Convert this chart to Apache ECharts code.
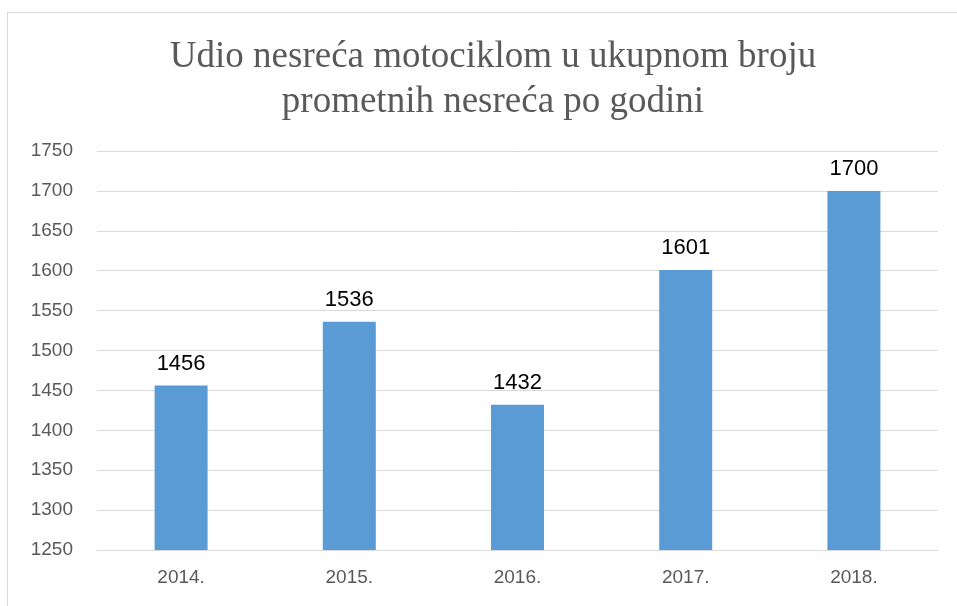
<!DOCTYPE html>
<html>
<head>
<meta charset="utf-8">
<script src="https://cdn.jsdelivr.net/npm/echarts@6/dist/echarts.min.js"></script>
<style>
  html, body { margin: 0; padding: 0; background: #fff; }
  #frame { position: absolute; left: 7px; top: 12px; width: 960px; height: 610px;
    border-left: 1px solid #d9d9d9; border-top: 1px solid #d9d9d9; }
  #chart { position: absolute; left: 0; top: 0; width: 957px; height: 606px; }
</style>
</head>
<body>
<div id="frame"></div>
<div id="chart"></div>
<script>
const years = ['2014.', '2015.', '2016.', '2017.', '2018.']
const accidents = [1456, 1536, 1432, 1601, 1700]
const titleText = 'Udio nesreća motociklom u ukupnom broju\nprometnih nesreća po godini'

const chart = echarts.init(document.getElementById('chart'))
chart.setOption({
  animation: false,
  title: {
    text: titleText,
    left: 488,
    top: 30,
    textAlign: 'center',
    textStyle: {
      fontFamily: 'Liberation Serif',
      fontWeight: 'normal',
      fontSize: 37,
      lineHeight: 45,
      color: '#595959'
    }
  },
  grid: { left: 97, right: 19, top: 151, bottom: 56 },
  xAxis: {
    type: 'category',
    data: years,
    axisLine: { lineStyle: { color: '#d9d9d9', width: 1 } },
    axisTick: { show: false },
    axisLabel: { color: '#595959', fontSize: 19, fontFamily: 'Liberation Sans', margin: 18 }
  },
  yAxis: {
    type: 'value',
    min: 1250,
    max: 1750,
    interval: 50,
    axisLine: { show: false },
    axisTick: { show: false },
    splitLine: { lineStyle: { color: '#d9d9d9', width: 1 } },
    axisLabel: {
      color: '#595959',
      fontSize: 19,
      fontFamily: 'Liberation Sans',
      margin: 24,
      formatter: v => String(v)
    }
  },
  series: [{
    type: 'bar',
    data: accidents,
    barWidth: 53,
    itemStyle: { color: '#5b9bd5' },
    label: {
      show: true,
      position: 'top',
      distance: 11,
      color: '#000',
      fontSize: 22,
      fontFamily: 'Liberation Sans'
    }
  }]
})
</script>
</body>
</html>
